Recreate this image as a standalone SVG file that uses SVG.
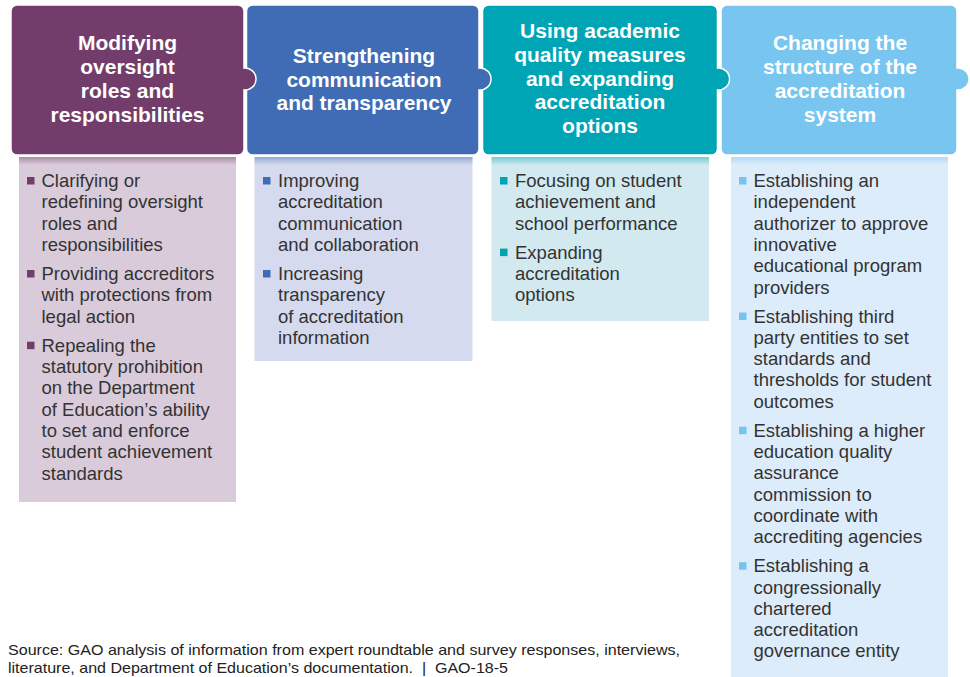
<svg xmlns="http://www.w3.org/2000/svg" width="970" height="677" viewBox="0 0 970 677">
<defs>
<linearGradient id="gp" x1="0" y1="0" x2="0" y2="1"><stop offset="0" stop-color="#733D6B" stop-opacity="0.45"/><stop offset="1" stop-color="#733D6B" stop-opacity="0"/></linearGradient>
<linearGradient id="gb" x1="0" y1="0" x2="0" y2="1"><stop offset="0" stop-color="#3F6CB4" stop-opacity="0.45"/><stop offset="1" stop-color="#3F6CB4" stop-opacity="0"/></linearGradient>
<linearGradient id="gt" x1="0" y1="0" x2="0" y2="1"><stop offset="0" stop-color="#00A5B5" stop-opacity="0.45"/><stop offset="1" stop-color="#00A5B5" stop-opacity="0"/></linearGradient>
<linearGradient id="gl" x1="0" y1="0" x2="0" y2="1"><stop offset="0" stop-color="#78C6EF" stop-opacity="0.45"/><stop offset="1" stop-color="#78C6EF" stop-opacity="0"/></linearGradient>
</defs>
<style>
.hd{stroke:#fff;stroke-width:1.5}
.ht{font-family:"Liberation Sans",Arial,sans-serif;font-weight:bold;font-size:21px;fill:#fff;text-anchor:middle}
.bt{font-family:"Liberation Sans",Arial,sans-serif;font-size:18.5px;fill:#333}
.src{font-family:"Liberation Sans",Arial,sans-serif;font-size:14.5px;fill:#222;white-space:pre}
</style>

<g id="col4">
<rect x="731" y="157" width="217" height="520" fill="#DDECFA"/>
<rect x="731" y="157" width="217" height="8" fill="url(#gl)"/>
<path class="hd" fill="#78C6EF" d="M727,5 H951 A6,6 0 0 1 957,11 V68.05 A11,11 0 1 1 957,89.95 V149 A6,6 0 0 1 951,155 H727 A6,6 0 0 1 721,149 V11 A6,6 0 0 1 727,5 Z"/>
<text class="ht"><tspan x="840" y="50">Changing the</tspan><tspan x="840" y="74">structure of the</tspan><tspan x="840" y="98">accreditation</tspan><tspan x="840" y="121.7">system</tspan></text>
<g fill="#73C5EE"><rect x="739" y="177" width="7.5" height="7.5"/><rect x="739" y="312.5" width="7.5" height="7.5"/><rect x="739" y="426.7" width="7.5" height="7.5"/><rect x="739" y="562.2" width="7.5" height="7.5"/></g>
<text class="bt"><tspan x="753.5" y="187">Establishing an</tspan><tspan x="753.5" y="208.3">independent</tspan><tspan x="753.5" y="229.6">authorizer to approve</tspan><tspan x="753.5" y="250.9">innovative</tspan><tspan x="753.5" y="272.2">educational program</tspan><tspan x="753.5" y="293.5">providers</tspan><tspan x="753.5" y="322.5">Establishing third</tspan><tspan x="753.5" y="343.8">party entities to set</tspan><tspan x="753.5" y="365.1">standards and</tspan><tspan x="753.5" y="386.4">thresholds for student</tspan><tspan x="753.5" y="407.7">outcomes</tspan><tspan x="753.5" y="436.7">Establishing a higher</tspan><tspan x="753.5" y="458">education quality</tspan><tspan x="753.5" y="479.3">assurance</tspan><tspan x="753.5" y="500.6">commission to</tspan><tspan x="753.5" y="521.9">coordinate with</tspan><tspan x="753.5" y="543.2">accrediting agencies</tspan><tspan x="753.5" y="572.2">Establishing a</tspan><tspan x="753.5" y="593.5">congressionally</tspan><tspan x="753.5" y="614.8">chartered</tspan><tspan x="753.5" y="636.1">accreditation</tspan><tspan x="753.5" y="657.4">governance entity</tspan></text>
</g>

<g id="col3">
<rect x="491.5" y="157" width="217.5" height="164" fill="#D1E9EF"/>
<rect x="491.5" y="157" width="217.5" height="8" fill="url(#gt)"/>
<path class="hd" fill="#00A5B5" d="M488.5,5 H711.5 A6,6 0 0 1 717.5,11 V68.05 A11,11 0 1 1 717.5,89.95 V149 A6,6 0 0 1 711.5,155 H488.5 A6,6 0 0 1 482.5,149 V11 A6,6 0 0 1 488.5,5 Z"/>
<text class="ht"><tspan x="600" y="38">Using academic</tspan><tspan x="600" y="61.8">quality measures</tspan><tspan x="600" y="85.6">and expanding</tspan><tspan x="600" y="109.4">accreditation</tspan><tspan x="600" y="133.2">options</tspan></text>
<g fill="#00A3B0"><rect x="500" y="177" width="7.5" height="7.5"/><rect x="500" y="248.6" width="7.5" height="7.5"/></g>
<text class="bt"><tspan x="515" y="187">Focusing on student</tspan><tspan x="515" y="208.3">achievement and</tspan><tspan x="515" y="229.6">school performance</tspan><tspan x="515" y="258.6">Expanding</tspan><tspan x="515" y="279.9">accreditation</tspan><tspan x="515" y="301.2">options</tspan></text>
</g>

<g id="col2">
<rect x="254.5" y="157" width="218" height="204" fill="#D5DAEE"/>
<rect x="254.5" y="157" width="218" height="8" fill="url(#gb)"/>
<path class="hd" fill="#3F6CB4" d="M252.5,5 H473 A6,6 0 0 1 479,11 V68.05 A11,11 0 1 1 479,89.95 V149 A6,6 0 0 1 473,155 H252.5 A6,6 0 0 1 246.5,149 V11 A6,6 0 0 1 252.5,5 Z"/>
<text class="ht"><tspan x="364" y="63">Strengthening</tspan><tspan x="364" y="86.7">communication</tspan><tspan x="364" y="110.4">and transparency</tspan></text>
<g fill="#3E6DB5"><rect x="263" y="177" width="7.5" height="7.5"/><rect x="263" y="270" width="7.5" height="7.5"/></g>
<text class="bt"><tspan x="278" y="187">Improving</tspan><tspan x="278" y="208.3">accreditation</tspan><tspan x="278" y="229.6">communication</tspan><tspan x="278" y="250.9">and collaboration</tspan><tspan x="278" y="280">Increasing</tspan><tspan x="278" y="301.3">transparency</tspan><tspan x="278" y="322.6">of accreditation</tspan><tspan x="278" y="343.9">information</tspan></text>
</g>

<g id="col1">
<rect x="19" y="157" width="217" height="345" fill="#DACBDA"/>
<rect x="19" y="157" width="217" height="8" fill="url(#gp)"/>
<path class="hd" fill="#733D6B" d="M17,5 H238 A6,6 0 0 1 244,11 V68.05 A11,11 0 1 1 244,89.95 V149 A6,6 0 0 1 238,155 H17 A6,6 0 0 1 11,149 V11 A6,6 0 0 1 17,5 Z"/>
<text class="ht"><tspan x="127.5" y="50">Modifying</tspan><tspan x="127.5" y="73.9">oversight</tspan><tspan x="127.5" y="97.8">roles and</tspan><tspan x="127.5" y="121.7">responsibilities</tspan></text>
<g fill="#713E6B"><rect x="27" y="177" width="7.5" height="7.5"/><rect x="27" y="270" width="7.5" height="7.5"/><rect x="27" y="341.7" width="7.5" height="7.5"/></g>
<text class="bt"><tspan x="41.5" y="187">Clarifying or</tspan><tspan x="41.5" y="208.3">redefining oversight</tspan><tspan x="41.5" y="229.6">roles and</tspan><tspan x="41.5" y="250.9">responsibilities</tspan><tspan x="41.5" y="280">Providing accreditors</tspan><tspan x="41.5" y="301.3">with protections from</tspan><tspan x="41.5" y="322.6">legal action</tspan><tspan x="41.5" y="351.7">Repealing the</tspan><tspan x="41.5" y="373">statutory prohibition</tspan><tspan x="41.5" y="394.3">on the Department</tspan><tspan x="41.5" y="415.6">of Education’s ability</tspan><tspan x="41.5" y="436.9">to set and enforce</tspan><tspan x="41.5" y="458.2">student achievement</tspan><tspan x="41.5" y="479.5">standards</tspan></text>
</g>

<g id="source">
<text class="src" x="8" y="655" textLength="672" lengthAdjust="spacingAndGlyphs">Source: GAO analysis of information from expert roundtable and survey responses, interviews,</text>
<text class="src" x="8" y="673" textLength="500" lengthAdjust="spacingAndGlyphs">literature, and Department of Education’s documentation.  |  GAO-18-5</text>
</g>
<g id="connectors"/>
</svg>
